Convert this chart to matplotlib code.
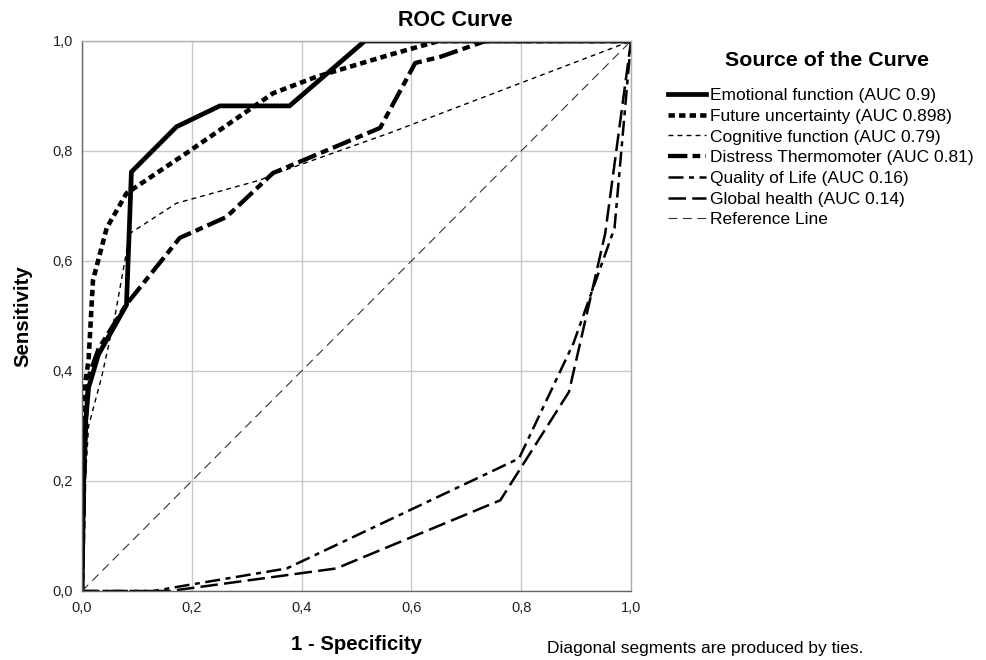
import numpy as np
import matplotlib
matplotlib.use("Agg")
import matplotlib.pyplot as plt

plt.rcParams['font.family'] = ['Liberation Sans', 'DejaVu Sans']

# curve points (1 - specificity, sensitivity)
emo_x = [0, 0.003, 0.006, 0.012, 0.03, 0.081, 0.09, 0.172, 0.251, 0.378, 0.515, 1.0]
emo_y = [0, 0.20, 0.30, 0.37, 0.43, 0.52, 0.762, 0.844, 0.882, 0.882, 1.0, 1.0]

fut_x = [0, 0.003, 0.006, 0.012, 0.02, 0.045, 0.081, 0.19, 0.348, 0.427, 0.561, 0.65, 1.0]
fut_y = [0, 0.20, 0.38, 0.42, 0.565, 0.66, 0.723, 0.796, 0.905, 0.935, 0.975, 1.0, 1.0]

cog_x = [0, 0.006, 0.012, 0.036, 0.06, 0.087, 0.172, 0.324, 0.355, 0.561, 1.0]
cog_y = [0, 0.20, 0.30, 0.39, 0.50, 0.65, 0.705, 0.747, 0.76, 0.833, 1.0]

dis_x = [0, 0.004, 0.008, 0.012, 0.03, 0.08, 0.178, 0.263, 0.348, 0.543, 0.607, 0.652, 0.735, 1.0]
dis_y = [0, 0.20, 0.33, 0.39, 0.44, 0.52, 0.642, 0.68, 0.76, 0.842, 0.96, 0.971, 1.0, 1.0]

qol_x = [0, 0.13, 0.20, 0.373, 0.796, 0.895, 0.97, 1.0]
qol_y = [0, 0, 0.012, 0.041, 0.241, 0.45, 0.66, 1.0]

glob_x = [0, 0.16, 0.463, 0.762, 0.887, 0.953, 1.0]
glob_y = [0, 0, 0.041, 0.165, 0.362, 0.65, 1.0]

ref_x = [0, 1.0]
ref_y = [0, 1.0]

labels = ["Emotional function (AUC 0.9)", "Future uncertainty (AUC 0.898)",
          "Cognitive function (AUC 0.79)", "Distress Thermomoter (AUC 0.81)",
          "Quality of Life (AUC 0.16)", "Global health (AUC 0.14)", "Reference Line"]

ticks = [0, 0.2, 0.4, 0.6, 0.8, 1.0]
tick_labels = ["0,0", "0,2", "0,4", "0,6", "0,8", "1,0"]

fig = plt.figure(figsize=(9.87, 6.6), dpi=100)
ax = fig.add_axes([82 / 987, 1 - 591 / 660, 549 / 987, 550 / 660])

ax.plot(emo_x, emo_y, color='black', lw=3.4, label=labels[0], solid_joinstyle='miter')
ax.plot(fut_x, fut_y, color='black', lw=3.3, dashes=(1.4, 0.9), label=labels[1])
ax.plot(cog_x, cog_y, color='black', lw=1.0, dashes=(3.5, 3), label=labels[2])
ax.plot(dis_x, dis_y, color='black', lw=3.1, dashes=(4.5, 1.2, 1.8, 1.2), label=labels[3])
ax.plot(qol_x, qol_y, color='black', lw=1.8, dashes=(6, 2.2, 2, 2.2), label=labels[4])
ax.plot(glob_x, glob_y, color='black', lw=1.8, dashes=(7, 2.5), label=labels[5])
ax.plot(ref_x, ref_y, color='#333333', lw=0.8, dashes=(8, 5), label=labels[6])

ax.set_xlim(0, 1)
ax.set_ylim(0, 1)
ax.set_xticks(ticks)
ax.set_yticks(ticks)
ax.set_xticklabels(tick_labels)
ax.set_yticklabels(tick_labels)
ax.tick_params(labelsize=10.5, length=0, colors='#222222')
ax.tick_params(axis='x', pad=7)
ax.tick_params(axis='y', pad=6.5)
ax.grid(True, color='#c8c8c8', lw=1.0)
ax.set_axisbelow(True)
for s in ax.spines.values():
    s.set_color('#b0b0b0')
    s.set_linewidth(1.0)
ax.spines['left'].set_color('#666666')
ax.spines['bottom'].set_color('#666666')

fig.text(455 / 987, 1 - 21 / 660, "ROC Curve", fontsize=15.5, fontweight='bold',
         ha='center', va='center')
ax.set_xlabel("1 - Specificity", fontsize=14.7, fontweight='bold')
ax.set_ylabel("Sensitivity", fontsize=14.7, fontweight='bold')
ax.xaxis.set_label_coords(0.5, (591 - 645) / 550)
ax.yaxis.set_label_coords((23 - 82) / 549, 0.5)
ax.xaxis.label.set_va('center')
ax.yaxis.label.set_va('center')
ax.yaxis.label.set_ha('center')

fig.text(827 / 987, 1 - 61 / 660, "Source of the Curve", fontsize=15.4, fontweight='bold',
         ha='center', va='center')
leg = ax.legend(loc='upper left', bbox_to_anchor=(668 / 987, 1 - 88 / 660),
                bbox_transform=fig.transFigure, frameon=False, fontsize=12.5,
                handlelength=2.2, handletextpad=0.2, labelspacing=0.32,
                borderpad=0, borderaxespad=0)

fig.text(547 / 987, 1 - 648 / 660, "Diagonal segments are produced by ties.",
         fontsize=12.5, ha='left', va='center')

fig.savefig("out.png", dpi=100)
